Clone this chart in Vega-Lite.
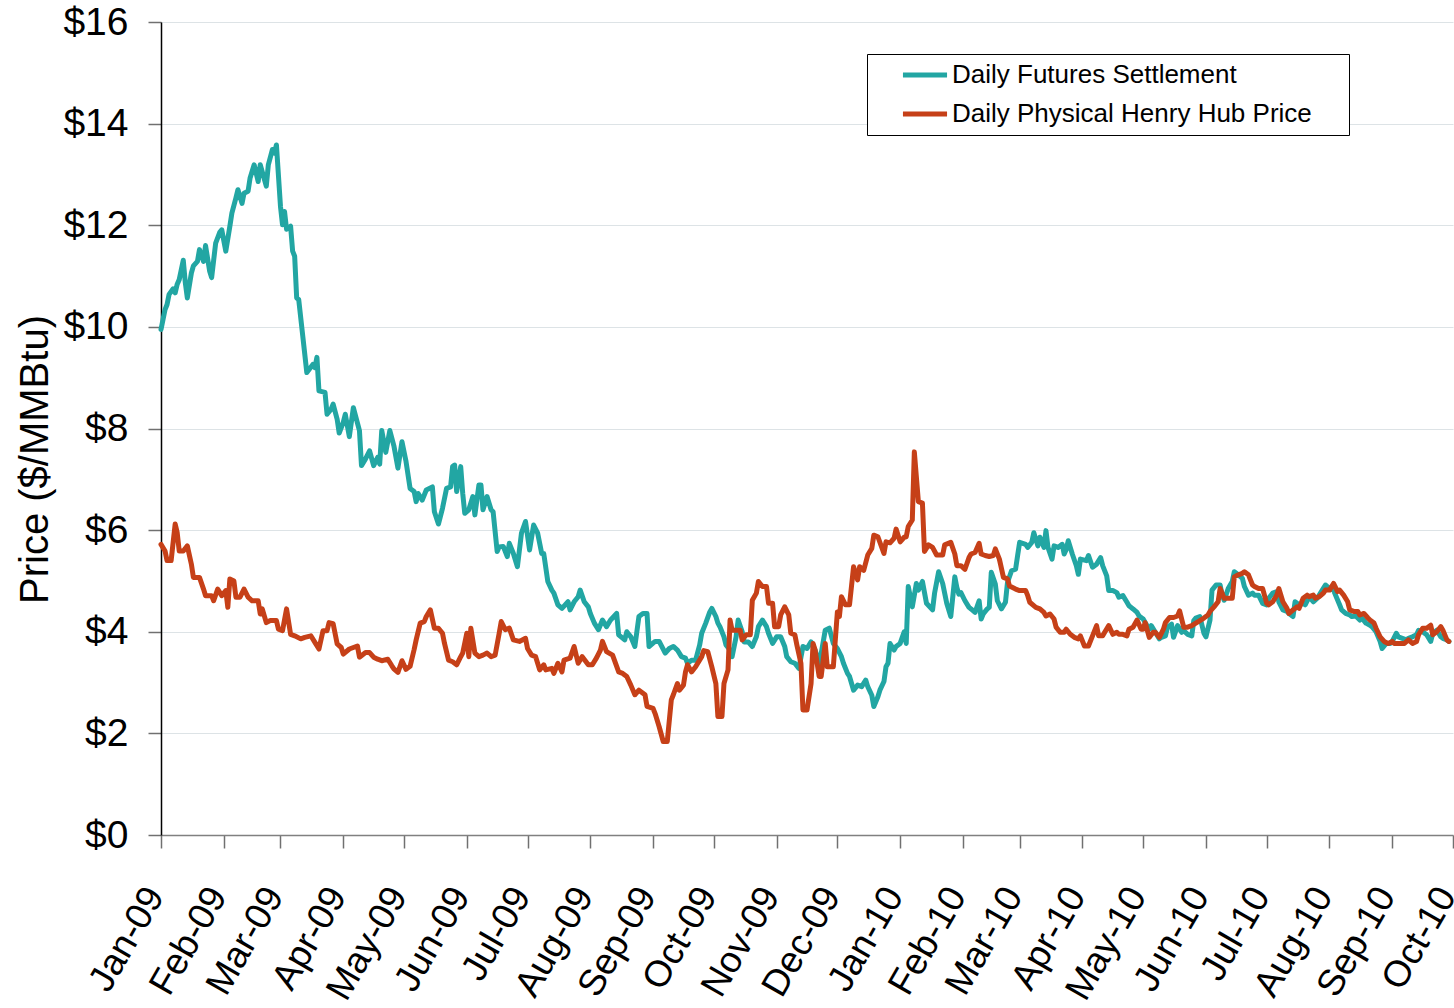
{
  "$schema": "https://vega.github.io/schema/vega-lite/v6.json",
  "width": 1292,
  "height": 813,
  "autosize": {"type": "none"},
  "padding": {"left": 161, "top": 22, "right": 1, "bottom": 173},
  "background": "white",
  "config": {"font": "Liberation Sans", "view": {"stroke": null}},
  "datasets": {
    "futures": [
      {"date":"2009-01-01","price":9.95},{"date":"2009-01-03","price":10.34},{"date":"2009-01-04","price":10.44},{"date":"2009-01-05","price":10.64},{"date":"2009-01-07","price":10.75},{"date":"2009-01-08","price":10.67},{"date":"2009-01-09","price":10.84},{"date":"2009-01-10","price":10.93},{"date":"2009-01-12","price":11.31},{"date":"2009-01-13","price":10.87},{"date":"2009-01-14","price":10.57},{"date":"2009-01-16","price":11.06},{"date":"2009-01-17","price":11.2},{"date":"2009-01-19","price":11.29},{"date":"2009-01-20","price":11.52},{"date":"2009-01-22","price":11.29},{"date":"2009-01-23","price":11.6},{"date":"2009-01-25","price":11.1},{"date":"2009-01-26","price":10.97},{"date":"2009-01-28","price":11.65},{"date":"2009-01-30","price":11.86},{"date":"2009-01-31","price":11.91},
      {"date":"2009-02-02","price":11.49},{"date":"2009-02-04","price":11.98},{"date":"2009-02-05","price":12.24},{"date":"2009-02-07","price":12.54},{"date":"2009-02-08","price":12.7},{"date":"2009-02-10","price":12.43},{"date":"2009-02-11","price":12.63},{"date":"2009-02-13","price":12.67},{"date":"2009-02-14","price":12.93},{"date":"2009-02-16","price":13.19},{"date":"2009-02-18","price":12.86},{"date":"2009-02-19","price":13.19},{"date":"2009-02-22","price":12.77},{"date":"2009-02-23","price":13.19},{"date":"2009-02-25","price":13.49},{"date":"2009-02-26","price":13.42},{"date":"2009-02-27","price":13.58},
      {"date":"2009-03-01","price":12.37},{"date":"2009-03-02","price":12.01},{"date":"2009-03-03","price":12.27},{"date":"2009-03-04","price":11.92},{"date":"2009-03-06","price":11.98},{"date":"2009-03-07","price":11.49},{"date":"2009-03-08","price":11.39},{"date":"2009-03-09","price":10.57},{"date":"2009-03-10","price":10.54},{"date":"2009-03-12","price":9.82},{"date":"2009-03-14","price":9.1},{"date":"2009-03-17","price":9.26},{"date":"2009-03-18","price":9.2},{"date":"2009-03-19","price":9.4},{"date":"2009-03-20","price":8.74},{"date":"2009-03-23","price":8.71},{"date":"2009-03-24","price":8.28},{"date":"2009-03-26","price":8.38},{"date":"2009-03-27","price":8.48},{"date":"2009-03-29","price":8.18},{"date":"2009-03-30","price":7.91},
      {"date":"2009-04-01","price":8.12},{"date":"2009-04-02","price":8.28},{"date":"2009-04-04","price":7.84},{"date":"2009-04-06","price":8.41},{"date":"2009-04-09","price":7.96},{"date":"2009-04-10","price":7.27},{"date":"2009-04-12","price":7.4},{"date":"2009-04-14","price":7.56},{"date":"2009-04-16","price":7.27},{"date":"2009-04-18","price":7.43},{"date":"2009-04-19","price":7.3},{"date":"2009-04-20","price":7.96},{"date":"2009-04-22","price":7.53},{"date":"2009-04-24","price":7.96},{"date":"2009-04-26","price":7.66},{"date":"2009-04-28","price":7.22},{"date":"2009-04-30","price":7.74},
      {"date":"2009-05-02","price":7.35},{"date":"2009-05-04","price":6.82},{"date":"2009-05-06","price":6.76},{"date":"2009-05-07","price":6.56},{"date":"2009-05-08","price":6.72},{"date":"2009-05-10","price":6.59},{"date":"2009-05-12","price":6.79},{"date":"2009-05-15","price":6.85},{"date":"2009-05-16","price":6.36},{"date":"2009-05-18","price":6.12},{"date":"2009-05-20","price":6.43},{"date":"2009-05-22","price":6.82},{"date":"2009-05-24","price":6.85},{"date":"2009-05-25","price":7.25},{"date":"2009-05-26","price":7.28},{"date":"2009-05-27","price":6.76},{"date":"2009-05-29","price":7.25},{"date":"2009-05-30","price":6.72},{"date":"2009-05-31","price":6.33},
      {"date":"2009-06-02","price":6.4},{"date":"2009-06-04","price":6.66},{"date":"2009-06-05","price":6.3},{"date":"2009-06-07","price":6.89},{"date":"2009-06-08","price":6.89},{"date":"2009-06-09","price":6.4},{"date":"2009-06-11","price":6.66},{"date":"2009-06-13","price":6.4},{"date":"2009-06-14","price":6.36},{"date":"2009-06-16","price":5.58},{"date":"2009-06-17","price":5.67},{"date":"2009-06-19","price":5.68},{"date":"2009-06-21","price":5.48},{"date":"2009-06-22","price":5.74},{"date":"2009-06-24","price":5.54},{"date":"2009-06-26","price":5.28},{"date":"2009-06-28","price":5.94},{"date":"2009-06-30","price":6.17},
      {"date":"2009-07-02","price":5.61},{"date":"2009-07-04","price":6.1},{"date":"2009-07-06","price":5.94},{"date":"2009-07-08","price":5.54},{"date":"2009-07-09","price":5.54},{"date":"2009-07-11","price":4.99},{"date":"2009-07-13","price":4.82},{"date":"2009-07-14","price":4.76},{"date":"2009-07-16","price":4.53},{"date":"2009-07-18","price":4.46},{"date":"2009-07-21","price":4.59},{"date":"2009-07-22","price":4.43},{"date":"2009-07-24","price":4.59},{"date":"2009-07-26","price":4.69},{"date":"2009-07-27","price":4.82},{"date":"2009-07-29","price":4.59},{"date":"2009-07-31","price":4.49},
      {"date":"2009-08-01","price":4.36},{"date":"2009-08-03","price":4.17},{"date":"2009-08-05","price":4.04},{"date":"2009-08-07","price":4.23},{"date":"2009-08-09","price":4.1},{"date":"2009-08-11","price":4.23},{"date":"2009-08-14","price":4.36},{"date":"2009-08-15","price":3.94},{"date":"2009-08-18","price":3.84},{"date":"2009-08-19","price":4.0},{"date":"2009-08-21","price":3.9},{"date":"2009-08-23","price":3.71},{"date":"2009-08-25","price":4.3},{"date":"2009-08-27","price":4.36},{"date":"2009-08-29","price":4.36},{"date":"2009-08-30","price":3.71},
      {"date":"2009-09-02","price":3.81},{"date":"2009-09-04","price":3.81},{"date":"2009-09-07","price":3.58},{"date":"2009-09-09","price":3.67},{"date":"2009-09-11","price":3.71},{"date":"2009-09-13","price":3.64},{"date":"2009-09-15","price":3.51},{"date":"2009-09-17","price":3.48},{"date":"2009-09-18","price":3.38},{"date":"2009-09-20","price":3.44},{"date":"2009-09-22","price":3.44},{"date":"2009-09-24","price":3.74},{"date":"2009-09-25","price":3.97},{"date":"2009-09-27","price":4.17},{"date":"2009-09-29","price":4.39},{"date":"2009-09-30","price":4.46},
      {"date":"2009-10-02","price":4.3},{"date":"2009-10-03","price":4.17},{"date":"2009-10-04","price":4.1},{"date":"2009-10-06","price":3.9},{"date":"2009-10-07","price":3.74},{"date":"2009-10-09","price":3.64},{"date":"2009-10-10","price":3.51},{"date":"2009-10-12","price":3.9},{"date":"2009-10-13","price":4.23},{"date":"2009-10-15","price":4.0},{"date":"2009-10-16","price":3.8},{"date":"2009-10-18","price":3.8},{"date":"2009-10-20","price":3.71},{"date":"2009-10-22","price":3.9},{"date":"2009-10-23","price":4.1},{"date":"2009-10-25","price":4.23},{"date":"2009-10-27","price":4.1},{"date":"2009-10-28","price":3.97},{"date":"2009-10-30","price":3.77},
      {"date":"2009-11-01","price":3.9},{"date":"2009-11-03","price":3.9},{"date":"2009-11-05","price":3.71},{"date":"2009-11-06","price":3.51},{"date":"2009-11-08","price":3.41},{"date":"2009-11-10","price":3.38},{"date":"2009-11-12","price":3.28},{"date":"2009-11-14","price":3.71},{"date":"2009-11-16","price":3.67},{"date":"2009-11-18","price":3.8},{"date":"2009-11-20","price":3.64},{"date":"2009-11-22","price":3.38},{"date":"2009-11-23","price":3.57},{"date":"2009-11-25","price":4.03},{"date":"2009-11-27","price":4.07},{"date":"2009-11-29","price":3.77},
      {"date":"2009-12-01","price":3.67},{"date":"2009-12-03","price":3.51},{"date":"2009-12-04","price":3.38},{"date":"2009-12-06","price":3.18},{"date":"2009-12-07","price":3.12},{"date":"2009-12-09","price":2.85},{"date":"2009-12-11","price":2.95},{"date":"2009-12-13","price":2.92},{"date":"2009-12-15","price":3.05},{"date":"2009-12-16","price":2.92},{"date":"2009-12-18","price":2.75},{"date":"2009-12-19","price":2.53},{"date":"2009-12-21","price":2.72},{"date":"2009-12-22","price":2.85},{"date":"2009-12-24","price":3.02},{"date":"2009-12-25","price":3.31},{"date":"2009-12-26","price":3.38},{"date":"2009-12-27","price":3.77},{"date":"2009-12-29","price":3.64},{"date":"2009-12-30","price":3.71},
      {"date":"2010-01-01","price":3.77},{"date":"2010-01-03","price":4.0},{"date":"2010-01-04","price":3.77},{"date":"2010-01-05","price":4.89},{"date":"2010-01-07","price":4.49},{"date":"2010-01-09","price":4.95},{"date":"2010-01-10","price":4.82},{"date":"2010-01-12","price":4.99},{"date":"2010-01-14","price":4.56},{"date":"2010-01-17","price":4.43},{"date":"2010-01-18","price":4.76},{"date":"2010-01-20","price":5.18},{"date":"2010-01-22","price":4.95},{"date":"2010-01-24","price":4.56},{"date":"2010-01-26","price":4.3},{"date":"2010-01-28","price":5.08},{"date":"2010-01-29","price":4.87},{"date":"2010-01-30","price":4.74},{"date":"2010-01-31","price":4.77},
      {"date":"2010-02-02","price":4.61},{"date":"2010-02-04","price":4.48},{"date":"2010-02-05","price":4.45},{"date":"2010-02-07","price":4.38},{"date":"2010-02-09","price":4.61},{"date":"2010-02-10","price":4.25},{"date":"2010-02-11","price":4.35},{"date":"2010-02-13","price":4.45},{"date":"2010-02-14","price":4.48},{"date":"2010-02-15","price":5.17},{"date":"2010-02-17","price":4.94},{"date":"2010-02-18","price":4.61},{"date":"2010-02-20","price":4.45},{"date":"2010-02-22","price":4.58},{"date":"2010-02-23","price":4.97},{"date":"2010-02-25","price":5.2},{"date":"2010-02-27","price":5.23},{"date":"2010-02-28","price":5.5},
      {"date":"2010-03-01","price":5.76},{"date":"2010-03-04","price":5.72},{"date":"2010-03-05","price":5.66},{"date":"2010-03-07","price":5.76},{"date":"2010-03-08","price":5.95},{"date":"2010-03-10","price":5.69},{"date":"2010-03-11","price":5.86},{"date":"2010-03-13","price":5.66},{"date":"2010-03-14","price":5.99},{"date":"2010-03-15","price":5.66},{"date":"2010-03-17","price":5.43},{"date":"2010-03-18","price":5.69},{"date":"2010-03-20","price":5.66},{"date":"2010-03-22","price":5.72},{"date":"2010-03-23","price":5.53},{"date":"2010-03-24","price":5.62},{"date":"2010-03-25","price":5.79},{"date":"2010-03-27","price":5.53},{"date":"2010-03-29","price":5.3},{"date":"2010-03-30","price":5.13},{"date":"2010-03-31","price":5.43},
      {"date":"2010-04-03","price":5.4},{"date":"2010-04-04","price":5.5},{"date":"2010-04-06","price":5.27},{"date":"2010-04-08","price":5.33},{"date":"2010-04-10","price":5.46},{"date":"2010-04-11","price":5.3},{"date":"2010-04-13","price":5.1},{"date":"2010-04-14","price":4.81},{"date":"2010-04-16","price":4.81},{"date":"2010-04-18","price":4.77},{"date":"2010-04-19","price":4.68},{"date":"2010-04-21","price":4.71},{"date":"2010-04-23","price":4.58},{"date":"2010-04-24","price":4.51},{"date":"2010-04-26","price":4.45},{"date":"2010-04-28","price":4.38},{"date":"2010-04-29","price":4.31},
      {"date":"2010-05-01","price":4.25},{"date":"2010-05-02","price":4.18},{"date":"2010-05-04","price":4.05},{"date":"2010-05-05","price":4.12},{"date":"2010-05-07","price":3.99},{"date":"2010-05-09","price":3.86},{"date":"2010-05-10","price":3.89},{"date":"2010-05-12","price":3.92},{"date":"2010-05-13","price":4.09},{"date":"2010-05-15","price":4.15},{"date":"2010-05-16","price":3.89},{"date":"2010-05-18","price":4.12},{"date":"2010-05-20","price":3.99},{"date":"2010-05-21","price":4.02},{"date":"2010-05-23","price":3.95},{"date":"2010-05-25","price":3.92},{"date":"2010-05-26","price":4.22},{"date":"2010-05-27","price":4.27},{"date":"2010-05-29","price":4.3},{"date":"2010-05-31","price":3.97},
      {"date":"2010-06-01","price":3.9},{"date":"2010-06-03","price":4.23},{"date":"2010-06-04","price":4.82},{"date":"2010-06-06","price":4.92},{"date":"2010-06-08","price":4.92},{"date":"2010-06-09","price":4.72},{"date":"2010-06-10","price":4.62},{"date":"2010-06-12","price":4.85},{"date":"2010-06-14","price":4.99},{"date":"2010-06-15","price":5.18},{"date":"2010-06-17","price":5.12},{"date":"2010-06-19","price":5.05},{"date":"2010-06-20","price":4.89},{"date":"2010-06-22","price":4.72},{"date":"2010-06-24","price":4.76},{"date":"2010-06-25","price":4.72},{"date":"2010-06-27","price":4.72},{"date":"2010-06-29","price":4.56},
      {"date":"2010-07-01","price":4.53},{"date":"2010-07-02","price":4.66},{"date":"2010-07-04","price":4.76},{"date":"2010-07-06","price":4.79},{"date":"2010-07-07","price":4.59},{"date":"2010-07-09","price":4.43},{"date":"2010-07-11","price":4.4},{"date":"2010-07-12","price":4.36},{"date":"2010-07-14","price":4.3},{"date":"2010-07-15","price":4.59},{"date":"2010-07-17","price":4.53},{"date":"2010-07-19","price":4.56},{"date":"2010-07-20","price":4.53},{"date":"2010-07-22","price":4.69},{"date":"2010-07-24","price":4.59},{"date":"2010-07-26","price":4.66},{"date":"2010-07-28","price":4.79},{"date":"2010-07-30","price":4.92},
      {"date":"2010-08-01","price":4.85},{"date":"2010-08-03","price":4.82},{"date":"2010-08-04","price":4.72},{"date":"2010-08-06","price":4.53},{"date":"2010-08-07","price":4.43},{"date":"2010-08-09","price":4.36},{"date":"2010-08-11","price":4.33},{"date":"2010-08-12","price":4.3},{"date":"2010-08-14","price":4.31},{"date":"2010-08-16","price":4.23},{"date":"2010-08-17","price":4.27},{"date":"2010-08-19","price":4.17},{"date":"2010-08-21","price":4.13},{"date":"2010-08-22","price":4.1},{"date":"2010-08-24","price":4.0},{"date":"2010-08-26","price":3.81},{"date":"2010-08-27","price":3.67},{"date":"2010-08-29","price":3.77},{"date":"2010-08-31","price":3.77},
      {"date":"2010-09-01","price":3.81},{"date":"2010-09-03","price":3.97},{"date":"2010-09-04","price":3.9},{"date":"2010-09-06","price":3.87},{"date":"2010-09-08","price":3.84},{"date":"2010-09-09","price":3.87},{"date":"2010-09-11","price":3.9},{"date":"2010-09-13","price":3.94},{"date":"2010-09-14","price":4.03},{"date":"2010-09-16","price":4.0},{"date":"2010-09-18","price":3.94},{"date":"2010-09-20","price":3.81},{"date":"2010-09-21","price":3.97},{"date":"2010-09-23","price":4.03},{"date":"2010-09-25","price":3.9},{"date":"2010-09-26","price":3.87},{"date":"2010-09-28","price":3.84},{"date":"2010-09-29","price":3.81}
    ],
    "physical": [
      {"date":"2009-01-01","price":5.72},{"date":"2009-01-03","price":5.59},{"date":"2009-01-04","price":5.4},{"date":"2009-01-06","price":5.4},{"date":"2009-01-08","price":6.12},{"date":"2009-01-09","price":5.95},{"date":"2009-01-10","price":5.59},{"date":"2009-01-12","price":5.59},{"date":"2009-01-14","price":5.69},{"date":"2009-01-16","price":5.33},{"date":"2009-01-17","price":5.07},{"date":"2009-01-20","price":5.07},{"date":"2009-01-22","price":4.84},{"date":"2009-01-23","price":4.71},{"date":"2009-01-26","price":4.71},{"date":"2009-01-27","price":4.61},{"date":"2009-01-29","price":4.84},{"date":"2009-01-31","price":4.71},
      {"date":"2009-02-02","price":4.81},{"date":"2009-02-03","price":4.48},{"date":"2009-02-04","price":5.04},{"date":"2009-02-06","price":5.0},{"date":"2009-02-07","price":4.68},{"date":"2009-02-09","price":4.68},{"date":"2009-02-11","price":4.84},{"date":"2009-02-13","price":4.68},{"date":"2009-02-15","price":4.61},{"date":"2009-02-18","price":4.61},{"date":"2009-02-19","price":4.35},{"date":"2009-02-20","price":4.45},{"date":"2009-02-22","price":4.18},{"date":"2009-02-24","price":4.22},{"date":"2009-02-27","price":4.22},{"date":"2009-02-28","price":4.05},
      {"date":"2009-03-02","price":4.02},{"date":"2009-03-04","price":4.45},{"date":"2009-03-06","price":3.95},{"date":"2009-03-08","price":3.92},{"date":"2009-03-11","price":3.86},{"date":"2009-03-13","price":3.89},{"date":"2009-03-16","price":3.92},{"date":"2009-03-18","price":3.79},{"date":"2009-03-20","price":3.66},{"date":"2009-03-22","price":4.02},{"date":"2009-03-24","price":4.02},{"date":"2009-03-25","price":4.18},{"date":"2009-03-27","price":4.16},{"date":"2009-03-29","price":3.76},{"date":"2009-03-31","price":3.69},
      {"date":"2009-04-01","price":3.56},{"date":"2009-04-04","price":3.66},{"date":"2009-04-06","price":3.69},{"date":"2009-04-08","price":3.72},{"date":"2009-04-09","price":3.5},{"date":"2009-04-12","price":3.59},{"date":"2009-04-14","price":3.59},{"date":"2009-04-16","price":3.5},{"date":"2009-04-18","price":3.46},{"date":"2009-04-20","price":3.43},{"date":"2009-04-23","price":3.46},{"date":"2009-04-25","price":3.33},{"date":"2009-04-26","price":3.27},{"date":"2009-04-28","price":3.2},{"date":"2009-04-30","price":3.43},
      {"date":"2009-05-02","price":3.26},{"date":"2009-05-04","price":3.32},{"date":"2009-05-06","price":3.65},{"date":"2009-05-07","price":3.84},{"date":"2009-05-09","price":4.17},{"date":"2009-05-11","price":4.2},{"date":"2009-05-12","price":4.3},{"date":"2009-05-14","price":4.43},{"date":"2009-05-16","price":4.07},{"date":"2009-05-18","price":4.07},{"date":"2009-05-20","price":3.97},{"date":"2009-05-21","price":3.77},{"date":"2009-05-23","price":3.44},{"date":"2009-05-25","price":3.41},{"date":"2009-05-27","price":3.35},{"date":"2009-05-29","price":3.51},{"date":"2009-05-30","price":3.58},
      {"date":"2009-06-01","price":3.97},{"date":"2009-06-02","price":3.51},{"date":"2009-06-03","price":4.07},{"date":"2009-06-05","price":3.58},{"date":"2009-06-07","price":3.51},{"date":"2009-06-09","price":3.54},{"date":"2009-06-11","price":3.58},{"date":"2009-06-13","price":3.51},{"date":"2009-06-15","price":3.54},{"date":"2009-06-17","price":3.97},{"date":"2009-06-18","price":4.2},{"date":"2009-06-20","price":4.04},{"date":"2009-06-22","price":4.07},{"date":"2009-06-24","price":3.84},{"date":"2009-06-27","price":3.81},{"date":"2009-06-30","price":3.87},
      {"date":"2009-07-01","price":3.67},{"date":"2009-07-03","price":3.54},{"date":"2009-07-05","price":3.51},{"date":"2009-07-07","price":3.25},{"date":"2009-07-09","price":3.35},{"date":"2009-07-10","price":3.25},{"date":"2009-07-13","price":3.28},{"date":"2009-07-14","price":3.18},{"date":"2009-07-16","price":3.38},{"date":"2009-07-18","price":3.21},{"date":"2009-07-19","price":3.44},{"date":"2009-07-22","price":3.48},{"date":"2009-07-24","price":3.71},{"date":"2009-07-26","price":3.38},{"date":"2009-07-28","price":3.51},{"date":"2009-07-31","price":3.35},
      {"date":"2009-08-02","price":3.35},{"date":"2009-08-04","price":3.48},{"date":"2009-08-06","price":3.64},{"date":"2009-08-07","price":3.81},{"date":"2009-08-09","price":3.61},{"date":"2009-08-12","price":3.54},{"date":"2009-08-15","price":3.21},{"date":"2009-08-17","price":3.18},{"date":"2009-08-19","price":3.12},{"date":"2009-08-21","price":2.95},{"date":"2009-08-23","price":2.76},{"date":"2009-08-25","price":2.85},{"date":"2009-08-28","price":2.76},{"date":"2009-08-29","price":2.53},
      {"date":"2009-09-01","price":2.49},{"date":"2009-09-02","price":2.39},{"date":"2009-09-04","price":2.13},{"date":"2009-09-06","price":1.84},{"date":"2009-09-08","price":1.84},{"date":"2009-09-10","price":2.66},{"date":"2009-09-11","price":2.76},{"date":"2009-09-13","price":2.98},{"date":"2009-09-14","price":2.85},{"date":"2009-09-16","price":2.95},{"date":"2009-09-17","price":3.21},{"date":"2009-09-18","price":3.35},{"date":"2009-09-20","price":3.21},{"date":"2009-09-22","price":3.31},{"date":"2009-09-25","price":3.51},{"date":"2009-09-26","price":3.63},{"date":"2009-09-28","price":3.61},{"date":"2009-09-30","price":3.31},
      {"date":"2009-10-02","price":2.98},{"date":"2009-10-03","price":2.33},{"date":"2009-10-05","price":2.33},{"date":"2009-10-06","price":2.98},{"date":"2009-10-08","price":3.25},{"date":"2009-10-09","price":4.23},{"date":"2009-10-10","price":4.03},{"date":"2009-10-12","price":4.03},{"date":"2009-10-14","price":4.03},{"date":"2009-10-15","price":3.84},{"date":"2009-10-17","price":3.94},{"date":"2009-10-19","price":3.94},{"date":"2009-10-20","price":4.62},{"date":"2009-10-22","price":4.76},{"date":"2009-10-23","price":4.99},{"date":"2009-10-25","price":4.89},{"date":"2009-10-27","price":4.89},{"date":"2009-10-28","price":4.56},{"date":"2009-10-30","price":4.56},{"date":"2009-10-31","price":4.1},
      {"date":"2009-11-02","price":4.1},{"date":"2009-11-03","price":4.33},{"date":"2009-11-05","price":4.49},{"date":"2009-11-07","price":4.33},{"date":"2009-11-08","price":3.97},{"date":"2009-11-10","price":3.94},{"date":"2009-11-11","price":3.74},{"date":"2009-11-13","price":3.38},{"date":"2009-11-14","price":2.46},{"date":"2009-11-16","price":2.46},{"date":"2009-11-18","price":2.98},{"date":"2009-11-19","price":3.77},{"date":"2009-11-20","price":3.64},{"date":"2009-11-22","price":3.12},{"date":"2009-11-23","price":3.12},{"date":"2009-11-25","price":3.77},{"date":"2009-11-26","price":3.31},{"date":"2009-11-28","price":3.31},{"date":"2009-11-29","price":3.31},
      {"date":"2009-12-01","price":4.39},{"date":"2009-12-02","price":4.3},{"date":"2009-12-03","price":4.69},{"date":"2009-12-05","price":4.53},{"date":"2009-12-07","price":4.53},{"date":"2009-12-09","price":5.28},{"date":"2009-12-11","price":5.02},{"date":"2009-12-12","price":5.28},{"date":"2009-12-14","price":5.21},{"date":"2009-12-16","price":5.51},{"date":"2009-12-18","price":5.64},{"date":"2009-12-19","price":5.9},{"date":"2009-12-21","price":5.87},{"date":"2009-12-24","price":5.54},{"date":"2009-12-25","price":5.77},{"date":"2009-12-27","price":5.75},{"date":"2009-12-29","price":5.84},{"date":"2009-12-30","price":6.02},
      {"date":"2010-01-01","price":5.77},{"date":"2010-01-03","price":5.86},{"date":"2010-01-04","price":5.87},{"date":"2010-01-05","price":6.07},{"date":"2010-01-07","price":6.2},{"date":"2010-01-08","price":7.54},{"date":"2010-01-10","price":6.56},{"date":"2010-01-12","price":6.53},{"date":"2010-01-13","price":5.58},{"date":"2010-01-15","price":5.71},{"date":"2010-01-17","price":5.66},{"date":"2010-01-19","price":5.51},{"date":"2010-01-22","price":5.51},{"date":"2010-01-23","price":5.71},{"date":"2010-01-26","price":5.76},{"date":"2010-01-28","price":5.53},{"date":"2010-01-29","price":5.3},{"date":"2010-01-31","price":5.3},
      {"date":"2010-02-02","price":5.23},{"date":"2010-02-04","price":5.46},{"date":"2010-02-05","price":5.53},{"date":"2010-02-07","price":5.56},{"date":"2010-02-09","price":5.74},{"date":"2010-02-10","price":5.53},{"date":"2010-02-12","price":5.5},{"date":"2010-02-14","price":5.48},{"date":"2010-02-16","price":5.5},{"date":"2010-02-17","price":5.63},{"date":"2010-02-19","price":5.43},{"date":"2010-02-21","price":5.07},{"date":"2010-02-23","price":5.04},{"date":"2010-02-24","price":4.9},{"date":"2010-02-27","price":4.84},
      {"date":"2010-03-01","price":4.81},{"date":"2010-03-04","price":4.81},{"date":"2010-03-05","price":4.71},{"date":"2010-03-06","price":4.58},{"date":"2010-03-09","price":4.48},{"date":"2010-03-11","price":4.45},{"date":"2010-03-13","price":4.38},{"date":"2010-03-14","price":4.31},{"date":"2010-03-16","price":4.35},{"date":"2010-03-18","price":4.25},{"date":"2010-03-19","price":4.09},{"date":"2010-03-21","price":3.99},{"date":"2010-03-23","price":3.99},{"date":"2010-03-24","price":4.05},{"date":"2010-03-26","price":3.95},{"date":"2010-03-28","price":3.89},{"date":"2010-03-30","price":3.86},{"date":"2010-03-31","price":3.92},
      {"date":"2010-04-02","price":3.72},{"date":"2010-04-04","price":3.72},{"date":"2010-04-06","price":3.92},{"date":"2010-04-08","price":4.12},{"date":"2010-04-09","price":3.92},{"date":"2010-04-11","price":3.92},{"date":"2010-04-12","price":3.99},{"date":"2010-04-14","price":4.12},{"date":"2010-04-16","price":3.95},{"date":"2010-04-18","price":3.99},{"date":"2010-04-19","price":3.95},{"date":"2010-04-21","price":3.95},{"date":"2010-04-23","price":3.92},{"date":"2010-04-24","price":4.05},{"date":"2010-04-26","price":4.09},{"date":"2010-04-28","price":4.23},{"date":"2010-04-30","price":4.05},
      {"date":"2010-05-01","price":4.05},{"date":"2010-05-02","price":4.18},{"date":"2010-05-04","price":3.89},{"date":"2010-05-06","price":3.99},{"date":"2010-05-07","price":3.99},{"date":"2010-05-09","price":3.89},{"date":"2010-05-11","price":4.05},{"date":"2010-05-12","price":4.18},{"date":"2010-05-14","price":4.28},{"date":"2010-05-16","price":4.28},{"date":"2010-05-18","price":4.31},{"date":"2010-05-19","price":4.41},{"date":"2010-05-21","price":4.09},{"date":"2010-05-23","price":4.09},{"date":"2010-05-25","price":4.12},{"date":"2010-05-27","price":4.17},{"date":"2010-05-29","price":4.22},{"date":"2010-05-31","price":4.27},
      {"date":"2010-06-02","price":4.33},{"date":"2010-06-03","price":4.4},{"date":"2010-06-05","price":4.49},{"date":"2010-06-07","price":4.59},{"date":"2010-06-08","price":4.85},{"date":"2010-06-10","price":4.66},{"date":"2010-06-12","price":4.66},{"date":"2010-06-14","price":4.66},{"date":"2010-06-15","price":5.08},{"date":"2010-06-17","price":5.12},{"date":"2010-06-19","price":5.15},{"date":"2010-06-20","price":5.18},{"date":"2010-06-22","price":5.12},{"date":"2010-06-24","price":4.92},{"date":"2010-06-25","price":4.89},{"date":"2010-06-27","price":4.85},{"date":"2010-06-29","price":4.85},
      {"date":"2010-07-01","price":4.56},{"date":"2010-07-02","price":4.53},{"date":"2010-07-04","price":4.59},{"date":"2010-07-06","price":4.72},{"date":"2010-07-07","price":4.85},{"date":"2010-07-09","price":4.59},{"date":"2010-07-11","price":4.46},{"date":"2010-07-12","price":4.36},{"date":"2010-07-14","price":4.43},{"date":"2010-07-16","price":4.49},{"date":"2010-07-17","price":4.46},{"date":"2010-07-19","price":4.66},{"date":"2010-07-21","price":4.72},{"date":"2010-07-22","price":4.69},{"date":"2010-07-24","price":4.72},{"date":"2010-07-25","price":4.66},{"date":"2010-07-27","price":4.69},{"date":"2010-07-29","price":4.76},{"date":"2010-07-30","price":4.82},
      {"date":"2010-08-01","price":4.82},{"date":"2010-08-03","price":4.95},{"date":"2010-08-05","price":4.79},{"date":"2010-08-06","price":4.82},{"date":"2010-08-08","price":4.72},{"date":"2010-08-10","price":4.59},{"date":"2010-08-11","price":4.43},{"date":"2010-08-13","price":4.4},{"date":"2010-08-15","price":4.4},{"date":"2010-08-16","price":4.33},{"date":"2010-08-18","price":4.36},{"date":"2010-08-20","price":4.27},{"date":"2010-08-21","price":4.23},{"date":"2010-08-23","price":4.17},{"date":"2010-08-24","price":4.07},{"date":"2010-08-26","price":3.9},{"date":"2010-08-28","price":3.81},{"date":"2010-08-30","price":3.77},
      {"date":"2010-09-01","price":3.81},{"date":"2010-09-02","price":3.77},{"date":"2010-09-05","price":3.77},{"date":"2010-09-07","price":3.77},{"date":"2010-09-09","price":3.84},{"date":"2010-09-11","price":3.77},{"date":"2010-09-13","price":3.81},{"date":"2010-09-14","price":3.94},{"date":"2010-09-16","price":4.07},{"date":"2010-09-18","price":4.07},{"date":"2010-09-20","price":4.13},{"date":"2010-09-21","price":3.94},{"date":"2010-09-23","price":4.0},{"date":"2010-09-25","price":4.1},{"date":"2010-09-26","price":4.03},{"date":"2010-09-28","price":3.84},{"date":"2010-09-29","price":3.81}
    ]
  },
  "encoding": {
    "x": {
      "field": "date",
      "type": "temporal",
      "scale": {"domain": [{"year": 2009, "month": 1, "date": 1}, {"year": 2010, "month": 10, "date": 1}]},
      "axis": {
        "title": null,
        "format": "%b-%y",
        "tickCount": {"interval": "month", "step": 1},
        "labelAngle": -60,
        "labelAlign": "right",
        "labelBaseline": "middle",
        "labelFontSize": 37,
        "labelColor": "black",
        "labelPadding": 42,
        "labelOffset": -6,
        "labelOverlap": false,
        "labelFlush": false,
        "labelBound": false,
        "tickSize": 13,
        "tickColor": "#707070",
        "tickWidth": 1.5,
        "domainColor": "#808080",
        "domainWidth": 1.5,
        "grid": false
      }
    },
    "y": {
      "field": "price",
      "type": "quantitative",
      "scale": {"domain": [0, 16], "nice": false},
      "axis": {
        "values": [0, 2, 4, 6, 8, 10, 12, 14, 16],
        "labelExpr": "'$' + datum.value",
        "labelFontSize": 39,
        "labelColor": "black",
        "labelPadding": 20,
        "tickSize": 13,
        "tickColor": "#707070",
        "tickWidth": 1.5,
        "domainColor": "black",
        "domainWidth": 1.5,
        "grid": true,
        "gridColor": "#dde3e6",
        "gridWidth": 1,
        "title": "Price ($/MMBtu)",
        "titleFontSize": 40,
        "titleFontWeight": "normal",
        "titleColor": "black",
        "titleAngle": -90,
        "titleX": -114,
        "titleY": 437,
        "titleAlign": "center",
        "titleBaseline": "alphabetic"
      }
    }
  },
  "layer": [
    {
      "data": {"name": "futures"},
      "mark": {"type": "line", "strokeWidth": 5, "strokeJoin": "round", "strokeCap": "round"},
      "encoding": {
        "color": {
          "datum": "Daily Futures Settlement",
          "type": "nominal",
          "scale": {"domain": ["Daily Futures Settlement", "Daily Physical Henry Hub Price"], "range": ["#22a6a3", "#c64018"]},
          "legend": {
            "title": null,
            "orient": "none",
            "legendX": 706,
            "legendY": 32,
            "strokeColor": "black",
            "fillColor": "white",
            "padding": 8,
            "symbolType": "M-2.1,0H2.1",
            "symbolSize": 441,
            "symbolStrokeWidth": 5,
            "symbolOffset": 37,
            "labelOffset": 14,
            "labelFontSize": 26,
            "labelColor": "black",
            "labelLimit": 600,
            "rowPadding": 13,
            "labelExpr": "datum.label + '\u00a0\u00a0\u00a0\u00a0\u200b'"
          }
        }
      }
    },
    {
      "data": {"name": "physical"},
      "mark": {"type": "line", "strokeWidth": 5, "strokeJoin": "round", "strokeCap": "round"},
      "encoding": {
        "color": {"datum": "Daily Physical Henry Hub Price", "type": "nominal"}
      }
    }
  ]
}
